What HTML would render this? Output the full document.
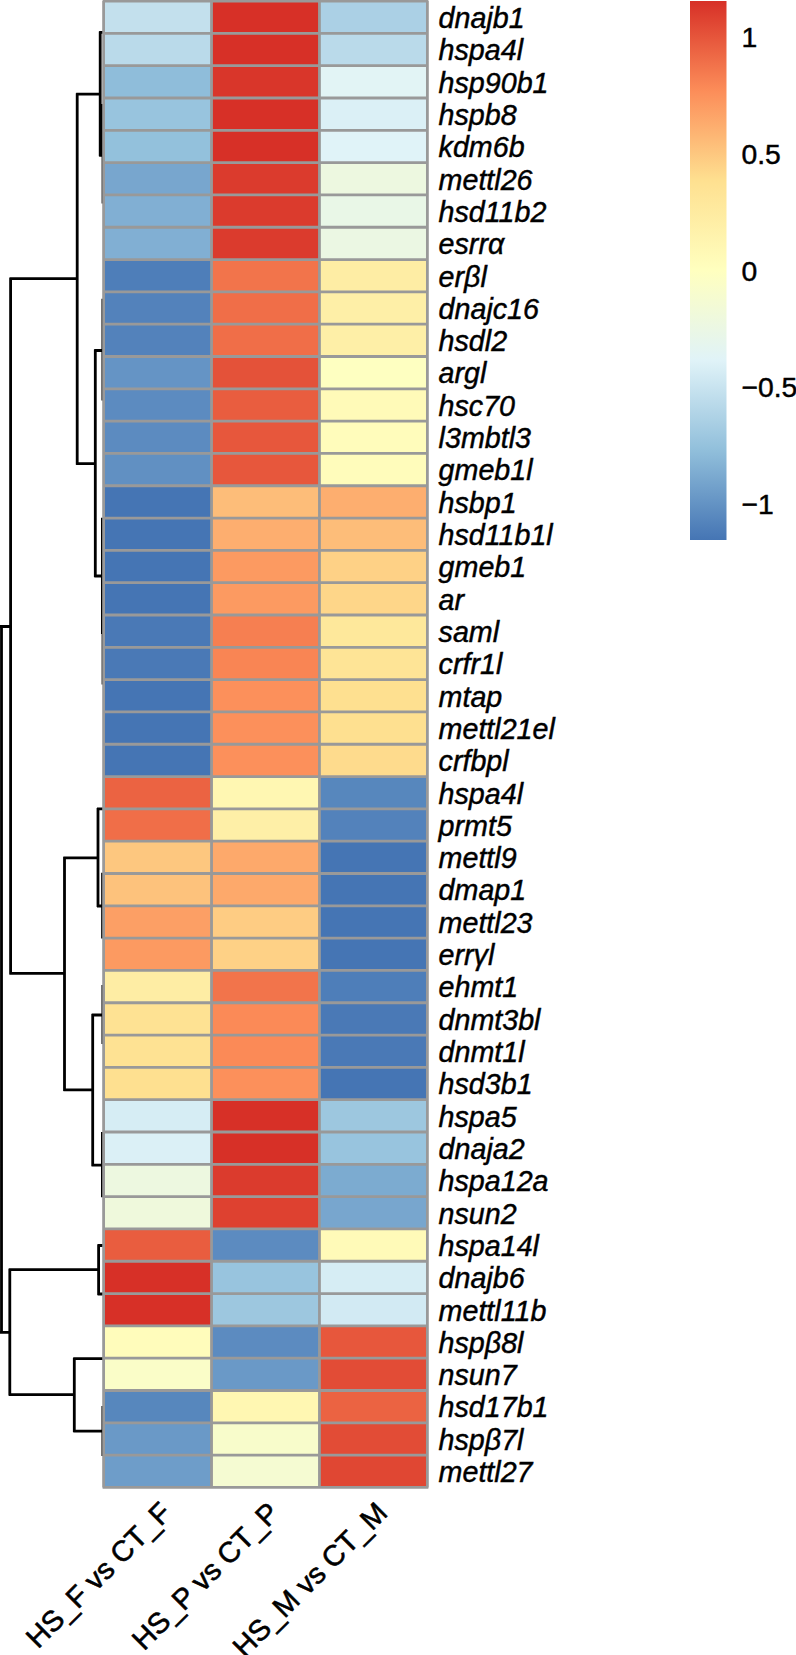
<!DOCTYPE html>
<html><head><meta charset="utf-8"><title>Heatmap</title>
<style>html,body{margin:0;padding:0;background:#fff}svg{display:block}</style></head>
<body>
<svg width="796" height="1655" viewBox="0 0 796 1655">
<rect width="796" height="1655" fill="#fff"/>
<path d="M1.5 625.5V1333.4M0 626.5H10.6M10.6 277.7V974.4M9.6 278.7H77.2M77.2 93.2V464.7M76.2 94.2H100.2M100.2 31.4V156.3M99.2 32.4H103M99.2 155.3H103M76.2 463.7H95.3M95.3 349.5V577M94.3 350.5H103M94.3 576H103M9.6 973.4H64.5M64.5 856.8V1090.9M63.5 857.8H98M98 807.9V907M97 808.9H103M97 906H103M63.5 1089.9H92.7M92.7 1014V1166.2M91.7 1015H103M91.7 1165.2H103M0 1332.4H9.8M9.8 1268.7V1395.6M8.8 1269.7H98.6M98.6 1244.5V1295M97.6 1245.5H103M97.6 1294H103M8.8 1394.6H74.3M74.3 1357.7V1432.1M73.3 1358.7H103M73.3 1431.1H103M103.0 104V203.5M102.85 298.7V400.5M102.4 517.7V634M103.0 590V684.5M102.55 872.8V938.4M102.85 985V1044M102.4 1132V1197.3M102.85 1406V1456" fill="none" stroke="#000" stroke-width="2.8"/>
<rect x="103.60" y="1.07" width="107.93" height="32.31" fill="#C3E0ED"/>
<rect x="211.53" y="1.07" width="107.93" height="32.31" fill="#D73027"/>
<rect x="319.46" y="1.07" width="107.93" height="32.31" fill="#ABD0E5"/>
<rect x="103.60" y="33.38" width="107.93" height="32.31" fill="#BADAEA"/>
<rect x="211.53" y="33.38" width="107.93" height="32.31" fill="#D73027"/>
<rect x="319.46" y="33.38" width="107.93" height="32.31" fill="#BADAEA"/>
<rect x="103.60" y="65.69" width="107.93" height="32.31" fill="#8FBDDA"/>
<rect x="211.53" y="65.69" width="107.93" height="32.31" fill="#D9362A"/>
<rect x="319.46" y="65.69" width="107.93" height="32.31" fill="#E2F4F5"/>
<rect x="103.60" y="98.01" width="107.93" height="32.31" fill="#98C4DE"/>
<rect x="211.53" y="98.01" width="107.93" height="32.31" fill="#D73027"/>
<rect x="319.46" y="98.01" width="107.93" height="32.31" fill="#DBF0F6"/>
<rect x="103.60" y="130.32" width="107.93" height="32.31" fill="#93C1DC"/>
<rect x="211.53" y="130.32" width="107.93" height="32.31" fill="#D73027"/>
<rect x="319.46" y="130.32" width="107.93" height="32.31" fill="#E0F3F8"/>
<rect x="103.60" y="162.63" width="107.93" height="32.31" fill="#78A6CE"/>
<rect x="211.53" y="162.63" width="107.93" height="32.31" fill="#DB3B2D"/>
<rect x="319.46" y="162.63" width="107.93" height="32.31" fill="#EDF8E0"/>
<rect x="103.60" y="194.94" width="107.93" height="32.31" fill="#81AFD3"/>
<rect x="211.53" y="194.94" width="107.93" height="32.31" fill="#DB3B2D"/>
<rect x="319.46" y="194.94" width="107.93" height="32.31" fill="#E9F7E7"/>
<rect x="103.60" y="227.25" width="107.93" height="32.31" fill="#81AFD3"/>
<rect x="211.53" y="227.25" width="107.93" height="32.31" fill="#DB3B2D"/>
<rect x="319.46" y="227.25" width="107.93" height="32.31" fill="#EBF7E3"/>
<rect x="103.60" y="259.57" width="107.93" height="32.31" fill="#4E7EB9"/>
<rect x="211.53" y="259.57" width="107.93" height="32.31" fill="#F2744B"/>
<rect x="319.46" y="259.57" width="107.93" height="32.31" fill="#FEEDA4"/>
<rect x="103.60" y="291.88" width="107.93" height="32.31" fill="#5382BB"/>
<rect x="211.53" y="291.88" width="107.93" height="32.31" fill="#F06E48"/>
<rect x="319.46" y="291.88" width="107.93" height="32.31" fill="#FEEFA7"/>
<rect x="103.60" y="324.19" width="107.93" height="32.31" fill="#5382BB"/>
<rect x="211.53" y="324.19" width="107.93" height="32.31" fill="#F06E48"/>
<rect x="319.46" y="324.19" width="107.93" height="32.31" fill="#FEEFA7"/>
<rect x="103.60" y="356.50" width="107.93" height="32.31" fill="#6594C5"/>
<rect x="211.53" y="356.50" width="107.93" height="32.31" fill="#E45239"/>
<rect x="319.46" y="356.50" width="107.93" height="32.31" fill="#FEFFC1"/>
<rect x="103.60" y="388.81" width="107.93" height="32.31" fill="#5C8BC0"/>
<rect x="211.53" y="388.81" width="107.93" height="32.31" fill="#E95D3F"/>
<rect x="319.46" y="388.81" width="107.93" height="32.31" fill="#FFFAB8"/>
<rect x="103.60" y="421.13" width="107.93" height="32.31" fill="#5C8BC0"/>
<rect x="211.53" y="421.13" width="107.93" height="32.31" fill="#E7573C"/>
<rect x="319.46" y="421.13" width="107.93" height="32.31" fill="#FFFCBB"/>
<rect x="103.60" y="453.44" width="107.93" height="32.31" fill="#6190C2"/>
<rect x="211.53" y="453.44" width="107.93" height="32.31" fill="#E7573C"/>
<rect x="319.46" y="453.44" width="107.93" height="32.31" fill="#FFFCBB"/>
<rect x="103.60" y="485.75" width="107.93" height="32.31" fill="#4575B4"/>
<rect x="211.53" y="485.75" width="107.93" height="32.31" fill="#FDBD79"/>
<rect x="319.46" y="485.75" width="107.93" height="32.31" fill="#FDAE6F"/>
<rect x="103.60" y="518.06" width="107.93" height="32.31" fill="#4575B4"/>
<rect x="211.53" y="518.06" width="107.93" height="32.31" fill="#FDAE6F"/>
<rect x="319.46" y="518.06" width="107.93" height="32.31" fill="#FDBD79"/>
<rect x="103.60" y="550.37" width="107.93" height="32.31" fill="#4575B4"/>
<rect x="211.53" y="550.37" width="107.93" height="32.31" fill="#FC9A61"/>
<rect x="319.46" y="550.37" width="107.93" height="32.31" fill="#FED186"/>
<rect x="103.60" y="582.69" width="107.93" height="32.31" fill="#4575B4"/>
<rect x="211.53" y="582.69" width="107.93" height="32.31" fill="#FC9A61"/>
<rect x="319.46" y="582.69" width="107.93" height="32.31" fill="#FED689"/>
<rect x="103.60" y="615.00" width="107.93" height="32.31" fill="#4A79B6"/>
<rect x="211.53" y="615.00" width="107.93" height="32.31" fill="#F67F51"/>
<rect x="319.46" y="615.00" width="107.93" height="32.31" fill="#FEE89B"/>
<rect x="103.60" y="647.31" width="107.93" height="32.31" fill="#4A79B6"/>
<rect x="211.53" y="647.31" width="107.93" height="32.31" fill="#F98554"/>
<rect x="319.46" y="647.31" width="107.93" height="32.31" fill="#FEE496"/>
<rect x="103.60" y="679.62" width="107.93" height="32.31" fill="#4575B4"/>
<rect x="211.53" y="679.62" width="107.93" height="32.31" fill="#FC905B"/>
<rect x="319.46" y="679.62" width="107.93" height="32.31" fill="#FEE090"/>
<rect x="103.60" y="711.93" width="107.93" height="32.31" fill="#4575B4"/>
<rect x="211.53" y="711.93" width="107.93" height="32.31" fill="#FC905B"/>
<rect x="319.46" y="711.93" width="107.93" height="32.31" fill="#FEE090"/>
<rect x="103.60" y="744.25" width="107.93" height="32.31" fill="#4575B4"/>
<rect x="211.53" y="744.25" width="107.93" height="32.31" fill="#FC905B"/>
<rect x="319.46" y="744.25" width="107.93" height="32.31" fill="#FEDB8D"/>
<rect x="103.60" y="776.56" width="107.93" height="32.31" fill="#EB6342"/>
<rect x="211.53" y="776.56" width="107.93" height="32.31" fill="#FFF7B2"/>
<rect x="319.46" y="776.56" width="107.93" height="32.31" fill="#5787BD"/>
<rect x="103.60" y="808.87" width="107.93" height="32.31" fill="#F06E48"/>
<rect x="211.53" y="808.87" width="107.93" height="32.31" fill="#FEEFA7"/>
<rect x="319.46" y="808.87" width="107.93" height="32.31" fill="#5382BB"/>
<rect x="103.60" y="841.18" width="107.93" height="32.31" fill="#FDC77F"/>
<rect x="211.53" y="841.18" width="107.93" height="32.31" fill="#FDA96B"/>
<rect x="319.46" y="841.18" width="107.93" height="32.31" fill="#4575B4"/>
<rect x="103.60" y="873.49" width="107.93" height="32.31" fill="#FDC27C"/>
<rect x="211.53" y="873.49" width="107.93" height="32.31" fill="#FDA96B"/>
<rect x="319.46" y="873.49" width="107.93" height="32.31" fill="#4575B4"/>
<rect x="103.60" y="905.81" width="107.93" height="32.31" fill="#FC9F65"/>
<rect x="211.53" y="905.81" width="107.93" height="32.31" fill="#FECC83"/>
<rect x="319.46" y="905.81" width="107.93" height="32.31" fill="#4575B4"/>
<rect x="103.60" y="938.12" width="107.93" height="32.31" fill="#FC9A61"/>
<rect x="211.53" y="938.12" width="107.93" height="32.31" fill="#FED186"/>
<rect x="319.46" y="938.12" width="107.93" height="32.31" fill="#4575B4"/>
<rect x="103.60" y="970.43" width="107.93" height="32.31" fill="#FEEDA4"/>
<rect x="211.53" y="970.43" width="107.93" height="32.31" fill="#F2744B"/>
<rect x="319.46" y="970.43" width="107.93" height="32.31" fill="#4E7EB9"/>
<rect x="103.60" y="1002.74" width="107.93" height="32.31" fill="#FEE293"/>
<rect x="211.53" y="1002.74" width="107.93" height="32.31" fill="#FB8A57"/>
<rect x="319.46" y="1002.74" width="107.93" height="32.31" fill="#4A79B6"/>
<rect x="103.60" y="1035.05" width="107.93" height="32.31" fill="#FEE293"/>
<rect x="211.53" y="1035.05" width="107.93" height="32.31" fill="#FB8A57"/>
<rect x="319.46" y="1035.05" width="107.93" height="32.31" fill="#4A79B6"/>
<rect x="103.60" y="1067.37" width="107.93" height="32.31" fill="#FEE090"/>
<rect x="211.53" y="1067.37" width="107.93" height="32.31" fill="#FC905B"/>
<rect x="319.46" y="1067.37" width="107.93" height="32.31" fill="#4575B4"/>
<rect x="103.60" y="1099.68" width="107.93" height="32.31" fill="#D6EDF4"/>
<rect x="211.53" y="1099.68" width="107.93" height="32.31" fill="#D73027"/>
<rect x="319.46" y="1099.68" width="107.93" height="32.31" fill="#9DC7DF"/>
<rect x="103.60" y="1131.99" width="107.93" height="32.31" fill="#DBF0F6"/>
<rect x="211.53" y="1131.99" width="107.93" height="32.31" fill="#D73027"/>
<rect x="319.46" y="1131.99" width="107.93" height="32.31" fill="#98C4DE"/>
<rect x="103.60" y="1164.30" width="107.93" height="32.31" fill="#EDF8E0"/>
<rect x="211.53" y="1164.30" width="107.93" height="32.31" fill="#DB3B2D"/>
<rect x="319.46" y="1164.30" width="107.93" height="32.31" fill="#7CABD0"/>
<rect x="103.60" y="1196.61" width="107.93" height="32.31" fill="#EFF9DC"/>
<rect x="211.53" y="1196.61" width="107.93" height="32.31" fill="#DE4130"/>
<rect x="319.46" y="1196.61" width="107.93" height="32.31" fill="#78A6CE"/>
<rect x="103.60" y="1228.93" width="107.93" height="32.31" fill="#E95D3F"/>
<rect x="211.53" y="1228.93" width="107.93" height="32.31" fill="#5C8BC0"/>
<rect x="319.46" y="1228.93" width="107.93" height="32.31" fill="#FFFAB8"/>
<rect x="103.60" y="1261.24" width="107.93" height="32.31" fill="#D73027"/>
<rect x="211.53" y="1261.24" width="107.93" height="32.31" fill="#98C4DE"/>
<rect x="319.46" y="1261.24" width="107.93" height="32.31" fill="#D6EDF4"/>
<rect x="103.60" y="1293.55" width="107.93" height="32.31" fill="#D73027"/>
<rect x="211.53" y="1293.55" width="107.93" height="32.31" fill="#9DC7DF"/>
<rect x="319.46" y="1293.55" width="107.93" height="32.31" fill="#D2EAF3"/>
<rect x="103.60" y="1325.86" width="107.93" height="32.31" fill="#FFFCBB"/>
<rect x="211.53" y="1325.86" width="107.93" height="32.31" fill="#5C8BC0"/>
<rect x="319.46" y="1325.86" width="107.93" height="32.31" fill="#E7573C"/>
<rect x="103.60" y="1358.17" width="107.93" height="32.31" fill="#FAFDC8"/>
<rect x="211.53" y="1358.17" width="107.93" height="32.31" fill="#6A99C7"/>
<rect x="319.46" y="1358.17" width="107.93" height="32.31" fill="#E24C36"/>
<rect x="103.60" y="1390.49" width="107.93" height="32.31" fill="#5787BD"/>
<rect x="211.53" y="1390.49" width="107.93" height="32.31" fill="#FFF7B2"/>
<rect x="319.46" y="1390.49" width="107.93" height="32.31" fill="#EB6342"/>
<rect x="103.60" y="1422.80" width="107.93" height="32.31" fill="#6A99C7"/>
<rect x="211.53" y="1422.80" width="107.93" height="32.31" fill="#F8FCCB"/>
<rect x="319.46" y="1422.80" width="107.93" height="32.31" fill="#E24C36"/>
<rect x="103.60" y="1455.11" width="107.93" height="32.31" fill="#6E9DC9"/>
<rect x="211.53" y="1455.11" width="107.93" height="32.31" fill="#F5FBD2"/>
<rect x="319.46" y="1455.11" width="107.93" height="32.31" fill="#E04733"/>
<path d="M102.60 1.07H428.39M102.60 33.38H428.39M102.60 65.69H428.39M102.60 98.01H428.39M102.60 130.32H428.39M102.60 162.63H428.39M102.60 194.94H428.39M102.60 227.25H428.39M102.60 259.57H428.39M102.60 291.88H428.39M102.60 324.19H428.39M102.60 356.50H428.39M102.60 388.81H428.39M102.60 421.13H428.39M102.60 453.44H428.39M102.60 485.75H428.39M102.60 518.06H428.39M102.60 550.37H428.39M102.60 582.69H428.39M102.60 615.00H428.39M102.60 647.31H428.39M102.60 679.62H428.39M102.60 711.93H428.39M102.60 744.25H428.39M102.60 776.56H428.39M102.60 808.87H428.39M102.60 841.18H428.39M102.60 873.49H428.39M102.60 905.81H428.39M102.60 938.12H428.39M102.60 970.43H428.39M102.60 1002.74H428.39M102.60 1035.05H428.39M102.60 1067.37H428.39M102.60 1099.68H428.39M102.60 1131.99H428.39M102.60 1164.30H428.39M102.60 1196.61H428.39M102.60 1228.93H428.39M102.60 1261.24H428.39M102.60 1293.55H428.39M102.60 1325.86H428.39M102.60 1358.17H428.39M102.60 1390.49H428.39M102.60 1422.80H428.39M102.60 1455.11H428.39M102.60 1487.42H428.39M103.60 1.07V1487.42M211.53 1.07V1487.42M319.46 1.07V1487.42M427.39 1.07V1487.42" fill="none" stroke="#999" stroke-width="2.8"/>
<g font-family="'Liberation Sans',Arial,Helvetica,sans-serif" font-size="28.65" font-style="italic" fill="#000" stroke="#000" stroke-width="0.45">
<text x="438.6" y="28.03">dnajb1</text>
<text x="438.6" y="60.34">hspa4l</text>
<text x="438.6" y="92.65">hsp90b1</text>
<text x="438.6" y="124.96">hspb8</text>
<text x="438.6" y="157.27">kdm6b</text>
<text x="438.6" y="189.59">mettl26</text>
<text x="438.6" y="221.90">hsd11b2</text>
<text x="438.6" y="254.21">esrrα</text>
<text x="438.6" y="286.52">erβl</text>
<text x="438.6" y="318.83">dnajc16</text>
<text x="438.6" y="351.15">hsdl2</text>
<text x="438.6" y="383.46">argl</text>
<text x="438.6" y="415.77">hsc70</text>
<text x="438.6" y="448.08">l3mbtl3</text>
<text x="438.6" y="480.39">gmeb1l</text>
<text x="438.6" y="512.71">hsbp1</text>
<text x="438.6" y="545.02">hsd11b1l</text>
<text x="438.6" y="577.33">gmeb1</text>
<text x="438.6" y="609.64">ar</text>
<text x="438.6" y="641.95">saml</text>
<text x="438.6" y="674.27">crfr1l</text>
<text x="438.6" y="706.58">mtap</text>
<text x="438.6" y="738.89">mettl21el</text>
<text x="438.6" y="771.20">crfbpl</text>
<text x="438.6" y="803.51">hspa4l</text>
<text x="438.6" y="835.83">prmt5</text>
<text x="438.6" y="868.14">mettl9</text>
<text x="438.6" y="900.45">dmap1</text>
<text x="438.6" y="932.76">mettl23</text>
<text x="438.6" y="965.07">errγl</text>
<text x="438.6" y="997.39">ehmt1</text>
<text x="438.6" y="1029.70">dnmt3bl</text>
<text x="438.6" y="1062.01">dnmt1l</text>
<text x="438.6" y="1094.32">hsd3b1</text>
<text x="438.6" y="1126.63">hspa5</text>
<text x="438.6" y="1158.95">dnaja2</text>
<text x="438.6" y="1191.26">hspa12a</text>
<text x="438.6" y="1223.57">nsun2</text>
<text x="438.6" y="1255.88">hspa14l</text>
<text x="438.6" y="1288.19">dnajb6</text>
<text x="438.6" y="1320.51">mettl11b</text>
<text x="438.6" y="1352.82">hspβ8l</text>
<text x="438.6" y="1385.13">nsun7</text>
<text x="438.6" y="1417.44">hsd17b1</text>
<text x="438.6" y="1449.75">hspβ7l</text>
<text x="438.6" y="1482.07">mettl27</text>
</g>
<g font-family="'Liberation Sans',Arial,Helvetica,sans-serif" font-size="28.9" fill="#000" stroke="#000" stroke-width="0.6" text-anchor="end">
<text transform="translate(173.1 1514.5) rotate(-45)">HS_F vs CT_F</text>
<text transform="translate(281.0 1514.5) rotate(-45)">HS_P vs CT_P</text>
<text transform="translate(388.9 1514.5) rotate(-45)">HS_M vs CT_M</text>
</g>
<defs><linearGradient id="lg" x1="0" y1="0" x2="0" y2="1"><stop offset="0.0000" stop-color="#D73027"/><stop offset="0.1667" stop-color="#FC8D59"/><stop offset="0.3333" stop-color="#FEE090"/><stop offset="0.5000" stop-color="#FFFFBF"/><stop offset="0.6667" stop-color="#E0F3F8"/><stop offset="0.8333" stop-color="#91BFDB"/><stop offset="1.0000" stop-color="#4575B4"/></linearGradient></defs>
<rect x="690" y="1" width="36.5" height="539" fill="url(#lg)"/>
<g font-family="'Liberation Sans',Arial,Helvetica,sans-serif" font-size="28.3" fill="#000" stroke="#000" stroke-width="0.45">
<text x="741.5" y="47.11">1</text>
<text x="741.5" y="163.80">0.5</text>
<text x="741.5" y="280.50">0</text>
<text x="741.5" y="397.20">−0.5</text>
<text x="741.5" y="513.89">−1</text>
</g>
</svg>
</body></html>
